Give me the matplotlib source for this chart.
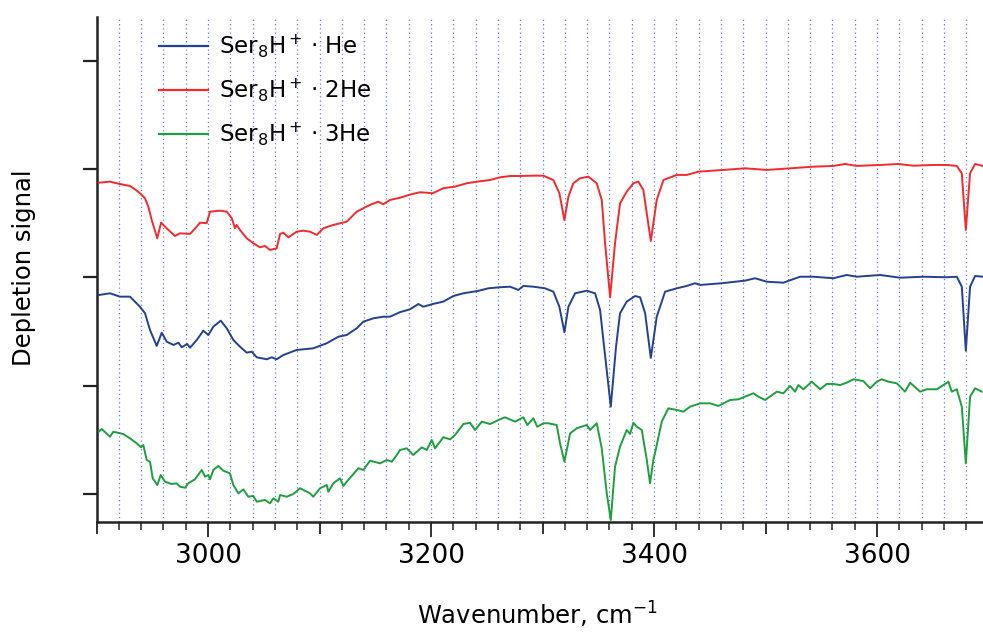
import matplotlib
matplotlib.use("Agg")
import matplotlib.pyplot as plt
from matplotlib.ticker import MultipleLocator, NullFormatter, FuncFormatter

# ---------------- data ----------------
wn_2he = [2902, 2912, 2921, 2930, 2934.5, 2939, 2943.5, 2946.5, 2949.5, 2954.5, 2957.9, 2963, 2970.4,
          2974.9, 2983.9, 2989.9, 2992.8, 2998.8, 3001.8, 3010.8, 3016.8, 3021.3, 3024.2, 3025.7, 3028.7,
          3034.7, 3040.6, 3046.6, 3051.1, 3055.6, 3061.6, 3064.6, 3067.5, 3072, 3079.6, 3085.5, 3091.5,
          3097.5, 3103.4, 3112.4, 3124.4, 3133.4, 3139.3, 3145.3, 3152.7, 3157.2, 3163.2, 3172.2, 3181.1,
          3190.1, 3201.5, 3211, 3221.5, 3232, 3241.5, 3252.9, 3261.9, 3270.9, 3279.8, 3291.8, 3300.7,
          3309.7, 3315.1, 3319.6, 3323.2, 3327.6, 3333.6, 3341.1, 3348.6, 3353.1, 3356.1, 3360.6, 3365,
          3369.5, 3375.5, 3381.5, 3385.9, 3390.4, 3397.1, 3402.4, 3408.4, 3420.4, 3429.3, 3439.8, 3462.2,
          3481.6, 3501.1, 3522, 3542.9, 3560.8, 3571.3, 3581.8, 3602.7, 3619.1, 3632.6, 3650.5, 3662.5,
          3671.5, 3676, 3679.6, 3683.4, 3687.9, 3694.8]
sig_2he = [2.874, 2.884, 2.862, 2.844, 2.813, 2.777, 2.730, 2.653, 2.530, 2.361, 2.505, 2.453, 2.382,
           2.407, 2.401, 2.468, 2.505, 2.500, 2.607, 2.616, 2.607, 2.546, 2.453, 2.484, 2.438,
           2.361, 2.315, 2.278, 2.290, 2.253, 2.269, 2.401, 2.413, 2.370, 2.422, 2.431, 2.422,
           2.392, 2.453, 2.484, 2.514, 2.607, 2.638, 2.669, 2.699, 2.675, 2.715, 2.735, 2.764,
           2.786, 2.777, 2.823, 2.838, 2.869, 2.884, 2.899, 2.924, 2.936, 2.936, 2.939, 2.939,
           2.899, 2.777, 2.530, 2.745, 2.869, 2.915, 2.930, 2.869, 2.715, 2.315, 1.816, 2.315,
           2.684, 2.791, 2.869, 2.884, 2.807, 2.336, 2.715, 2.899, 2.946, 2.946, 2.976, 2.992,
           3.007, 2.992, 3.007, 3.022, 3.029, 3.047, 3.029, 3.038, 3.047, 3.031, 3.038, 3.038,
           3.029, 2.961, 2.438, 2.961, 3.047, 3.029]

wn_1he = [2902, 2912, 2921, 2930, 2939, 2943.5, 2948, 2954, 2958.5, 2963, 2969, 2973.4, 2976.4, 2981.4,
          2983.9, 2989.9, 2995.8, 3000.3, 3004.8, 3011.4, 3016.8, 3022.7, 3028.7, 3034.7, 3039.2, 3043.7,
          3052.7, 3057.1, 3061.6, 3067.5, 3079.6, 3094.4, 3106.5, 3116.9, 3124.4, 3133.4, 3139.3, 3148.3,
          3157.2, 3163.2, 3172.2, 3181.1, 3188.6, 3193.1, 3201.5, 3211, 3220, 3229, 3241.5, 3251.4,
          3261.9, 3270.9, 3278.3, 3282.8, 3291.8, 3302.3, 3309.7, 3315.1, 3319.6, 3323.2, 3329.2, 3339.7,
          3347.1, 3351.6, 3355.2, 3361.2, 3365.9, 3369.5, 3375.5, 3383, 3387.5, 3392, 3397.1, 3402.4,
          3409.9, 3420.4, 3429.3, 3436.8, 3441.3, 3460.7, 3481.6, 3490.6, 3501.1, 3516, 3530.9, 3542.9,
          3560.8, 3572.8, 3581.8, 3602.7, 3620.6, 3641.5, 3662.5, 3671.5, 3676, 3679.6, 3683.4, 3687.9,
          3694.8]
sig_1he = [1.837, 1.853, 1.822, 1.822, 1.729, 1.669, 1.514, 1.367, 1.489, 1.406, 1.376, 1.397, 1.355, 1.385,
           1.351, 1.422, 1.508, 1.468, 1.545, 1.600, 1.530, 1.422, 1.360, 1.305, 1.314, 1.262,
           1.244, 1.262, 1.244, 1.283, 1.330, 1.345, 1.392, 1.452, 1.468, 1.530, 1.591, 1.622,
           1.637, 1.637, 1.679, 1.705, 1.754, 1.729, 1.754, 1.776, 1.828, 1.853, 1.874, 1.899,
           1.909, 1.914, 1.884, 1.921, 1.914, 1.899, 1.868, 1.729, 1.493, 1.729, 1.853, 1.877,
           1.853, 1.699, 1.360, 0.806, 1.360, 1.669, 1.776, 1.828, 1.816, 1.669, 1.256, 1.637,
           1.868, 1.899, 1.921, 1.946, 1.930, 1.946, 1.970, 1.992, 1.960, 1.951, 2.006, 2.006,
           1.992, 2.022, 2.006, 2.022, 1.997, 2.006, 2.001, 2.006, 1.914, 1.323, 1.914, 2.013,
           2.006]

wn_3he = [2902, 2904.7, 2912.1, 2915.1, 2924, 2930, 2936.1, 2939.9, 2942, 2945, 2948, 2950.4, 2954.5,
          2957.6, 2961.4, 2967.4, 2971.9, 2974.9, 2979.4, 2982.3, 2988.3, 2994.4, 2997.3, 3000.3, 3001.8,
          3004.8, 3009.2, 3013.7, 3019.7, 3022.7, 3027.2, 3031.7, 3036.1, 3040.6, 3043.7, 3051.1, 3055.6,
          3058.6, 3063.1, 3064.6, 3070.6, 3076.5, 3082.5, 3091.5, 3094.4, 3100.5, 3106.5, 3107.9, 3112.4,
          3118.4, 3121.4, 3124.4, 3134.8, 3139.3, 3145.3, 3154.3, 3160.3, 3164.8, 3169.3, 3172.2, 3178.2,
          3184.1, 3191.7, 3196.2, 3200.6, 3203.6, 3211, 3217.1, 3221.5, 3229, 3235, 3239.5, 3245.5,
          3252.9, 3261.9, 3266.4, 3275.4, 3282.8, 3286.4, 3291.8, 3295.3, 3300.7, 3305.2, 3312.7, 3315.7,
          3319.6, 3324.7, 3330.7, 3339.7, 3342.6, 3348.6, 3353.1, 3357.6, 3361.2, 3365, 3369.5, 3375.5,
          3378.5, 3381.5, 3384.5, 3389, 3393.5, 3396.4, 3399.4, 3401.8, 3406.9, 3412.8, 3420.4, 3426.3,
          3432.3, 3441.3, 3450.3, 3457.7, 3468.2, 3475.6, 3489.1, 3493.6, 3499.6, 3510.1, 3516, 3522,
          3526.5, 3529.4, 3533.9, 3541.5, 3548.9, 3554.9, 3560.8, 3566.8, 3572.8, 3578.8, 3587.7, 3593.7,
          3599.8, 3604.2, 3610.2, 3617.7, 3625.1, 3629.6, 3638.6, 3644.6, 3653.6, 3659.5, 3664, 3667,
          3671.5, 3676, 3679.6, 3683.4, 3687.9, 3693.9]
sig_3he = [0.575, 0.600, 0.529, 0.575, 0.554, 0.514, 0.468, 0.431, 0.452, 0.314, 0.298, 0.145, 0.083,
           0.175, 0.114, 0.092, 0.099, 0.067, 0.058, 0.099, 0.136, 0.222, 0.160, 0.175, 0.136,
           0.222, 0.259, 0.215, 0.191, 0.083, 0.006, 0.043, -0.025, -0.018, -0.071, -0.055, -0.086,
           -0.040, -0.071, -0.009, -0.025, 0.000, 0.053, 0.006, -0.025, 0.053, 0.083, 0.021, 0.099,
           0.145, 0.074, 0.114, 0.237, 0.222, 0.307, 0.283, 0.314, 0.298, 0.360, 0.406, 0.422,
           0.360, 0.431, 0.406, 0.499, 0.422, 0.524, 0.505, 0.545, 0.646, 0.658, 0.591, 0.668,
           0.646, 0.690, 0.708, 0.668, 0.708, 0.637, 0.699, 0.621, 0.653, 0.653, 0.637, 0.468,
           0.298, 0.560, 0.607, 0.637, 0.591, 0.653, 0.422, 0.006, -0.240, 0.252, 0.437, 0.591,
           0.554, 0.658, 0.621, 0.591, 0.314, 0.099, 0.314, 0.422, 0.668, 0.791, 0.776, 0.760,
           0.806, 0.837, 0.837, 0.813, 0.868, 0.874, 0.930, 0.898, 0.868, 0.945, 0.930, 0.997,
           0.945, 1.006, 0.967, 1.037, 0.967, 1.016, 1.016, 1.006, 1.028, 1.059, 1.043, 0.976,
           1.037, 1.059, 1.037, 1.022, 0.945, 1.028, 0.945, 0.967, 0.967, 1.006, 1.037, 0.945,
           0.967, 0.806, 0.283, 0.898, 0.976, 0.945]

labels = ["Ser$_8$H$^+$\u2009· He", "Ser$_8$H$^+$\u2009· 2He", "Ser$_8$H$^+$\u2009· 3He"]
colors = ["#24408e", "#ef2b2f", "#1f9d40"]
xlabel = r"Wavenumber, cm$^{-1}$"
ylabel = "Depletion signal"
x_labeled = [3000, 3200, 3400, 3600]
grid_positions = list(range(2920, 3681, 20))

# ---------------- figure ----------------
W, H = 983, 637
fig = plt.figure(figsize=(W / 100, H / 100), dpi=100)
ax = fig.add_axes([96.5 / W, 1 - 522 / H, 1 - 96.5 / W, (522 - 17) / H])

for gx in grid_positions:
    ax.axvline(gx, color="#3a55c0", lw=0.9, ls=(0, (1, 2.4)), alpha=0.75, zorder=1)

ax.plot(wn_1he, sig_1he, color=colors[0], lw=1.4, label=labels[0], zorder=3)
ax.plot(wn_2he, sig_2he, color=colors[1], lw=1.4, label=labels[1], zorder=3)
ax.plot(wn_3he, sig_3he, color=colors[2], lw=1.4, label=labels[2], zorder=3)

ax.set_xlim(2900, 3695)
ax.set_ylim(-0.2585, 4.404)

for s in ["top", "right"]:
    ax.spines[s].set_visible(False)
for s in ["left", "bottom"]:
    ax.spines[s].set_linewidth(1.8)
    ax.spines[s].set_color("#222222")

ax.yaxis.set_major_locator(MultipleLocator(1))
ax.yaxis.set_major_formatter(NullFormatter())
ax.tick_params(axis="y", which="major", direction="out", length=10, width=1.6, color="#222222")

ax.xaxis.set_major_locator(MultipleLocator(100))
ax.xaxis.set_minor_locator(MultipleLocator(20))
ax.xaxis.set_major_formatter(FuncFormatter(lambda v, p: f"{int(round(v))}" if int(round(v)) in x_labeled else ""))
ax.tick_params(axis="x", which="major", direction="out", length=11, width=1.3, color="#222222",
               labelsize=19, pad=4)
ax.tick_params(axis="x", which="minor", direction="out", length=6, width=1.1, color="#222222")
fig.canvas.draw()
for t in ax.xaxis.get_major_ticks():
    if int(round(t.get_loc())) not in x_labeled:
        t.tick1line.set_markersize(8.5)

fig.text(537 / W, 1 - 625 / H, xlabel, ha="center", va="baseline", fontsize=17.5)
fig.text(24 / W, 1 - 268 / H, ylabel, ha="center", va="center", rotation=90, fontsize=17.5)

leg = ax.legend(loc="upper left", bbox_to_anchor=(159 / W, 1 - 32 / H), bbox_transform=fig.transFigure,
                frameon=False, fontsize=16.5, handlelength=2.15, handletextpad=0.45,
                labelspacing=0.72, borderpad=0, borderaxespad=0)
for lh in leg.get_lines():
    lh.set_linewidth(1.6)

fig.savefig("out.png", dpi=100)
